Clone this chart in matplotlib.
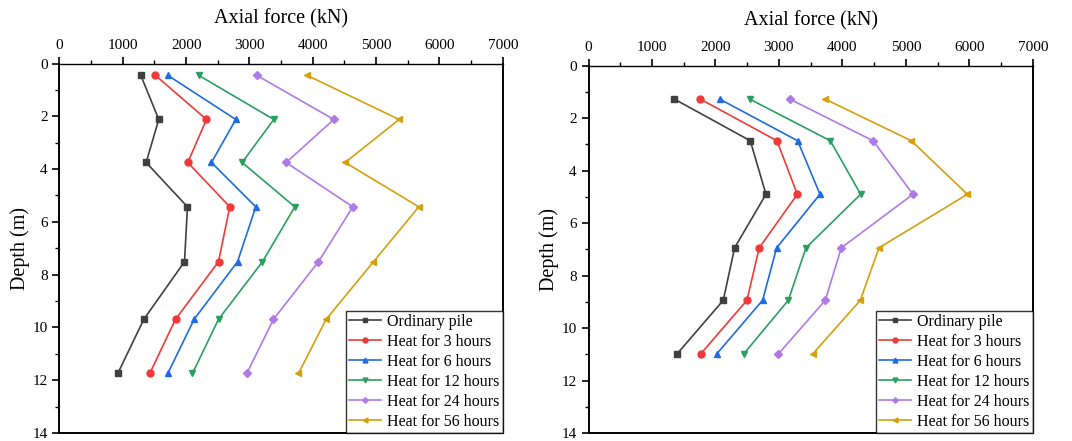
import matplotlib
matplotlib.use("Agg")
import matplotlib.pyplot as plt
from matplotlib.ticker import MultipleLocator

plt.rcParams["font.family"] = ["Liberation Serif", "DejaVu Serif"]

labels = [
    "Ordinary pile",
    "Heat for 3 hours",
    "Heat for 6 hours",
    "Heat for 12 hours",
    "Heat for 24 hours",
    "Heat for 56 hours",
]
colors = ["#404040", "#f03a3a", "#1f6be0", "#2aa05e", "#b07ae6", "#d4a00e"]
markers = ["s", "o", "^", "v", "D", "<"]

# left panel
depth_a = [0.45, 2.12, 3.75, 5.43, 7.51, 9.69, 11.74]
force_a = [
    [1284, 1568, 1368, 2021, 1974, 1332, 921],
    [1516, 2321, 2026, 2689, 2511, 1832, 1426],
    [1711, 2784, 2400, 3100, 2811, 2126, 1711],
    [2200, 3384, 2884, 3716, 3205, 2511, 2100],
    [3116, 4332, 3579, 4632, 4089, 3379, 2958],
    [3911, 5363, 4511, 5674, 4958, 4211, 3774],
]

# right panel
depth_b = [1.27, 2.86, 4.90, 6.94, 8.94, 10.99]
force_b = [
    [1351, 2549, 2796, 2302, 2123, 1393],
    [1760, 2969, 3290, 2690, 2496, 1766],
    [2065, 3295, 3647, 2964, 2743, 2018],
    [2538, 3810, 4288, 3426, 3148, 2443],
    [3169, 4483, 5113, 3983, 3731, 2990],
    [3726, 5087, 5970, 4577, 4283, 3531],
]


def draw_panel(ax, depth, forces):
    for vals, lab, c, m in zip(forces, labels, colors, markers):
        ms = 4 if m == "D" else 5
        ax.plot(vals, depth, color=c, marker=m, markersize=ms, linewidth=1.2, label=lab)
    ax.set_xlim(0, 7000)
    ax.set_ylim(14, 0)
    ax.xaxis.tick_top()
    ax.xaxis.set_label_position("top")
    ax.xaxis.set_major_locator(MultipleLocator(1000))
    ax.xaxis.set_minor_locator(MultipleLocator(500))
    ax.yaxis.set_major_locator(MultipleLocator(2))
    ax.yaxis.set_minor_locator(MultipleLocator(1))
    ax.tick_params(which="major", direction="out", length=5, width=1.2, labelsize=11)
    ax.tick_params(which="minor", direction="out", length=3, width=1)
    ax.set_xlabel("Axial force (kN)", fontsize=14.5, labelpad=11)
    ax.set_ylabel("Depth (m)", fontsize=14.5, labelpad=2)
    for side in ["left", "right", "bottom", "top"]:
        ax.spines[side].set_linewidth(1.4)
        ax.spines[side].set_color("black")
    ax.spines["top"].set_linewidth(1.0)
    leg = ax.legend(
        loc="lower right",
        fontsize=11.5,
        frameon=True,
        fancybox=False,
        edgecolor="black",
        borderaxespad=0,
        handlelength=2.0,
        handletextpad=0.4,
        labelspacing=0.25,
        borderpad=0.2,
        markerscale=0.7,
    )
    leg.get_frame().set_linewidth(1.0)


fig = plt.figure(figsize=(10.72, 4.41), dpi=100)
ax1 = fig.add_axes([0.0555, 0.018, 0.4135, 0.838])
ax2 = fig.add_axes([0.549, 0.018, 0.4144, 0.833])

draw_panel(ax1, depth_a, force_a)
draw_panel(ax2, depth_b, force_b)

fig.savefig("out.png", dpi=100)
